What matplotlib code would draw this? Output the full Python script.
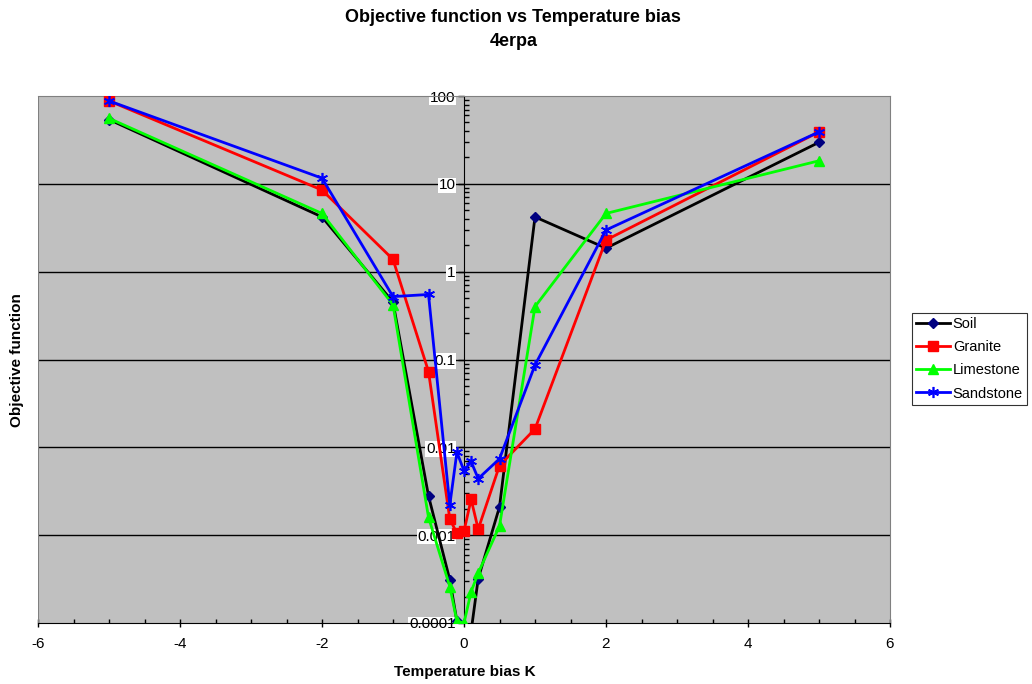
import matplotlib.pyplot as plt
from matplotlib.ticker import FixedLocator, LogLocator, FuncFormatter, NullFormatter

plt.rcParams['font.family'] = ['Liberation Sans', 'DejaVu Sans']
plt.rcParams['axes.unicode_minus'] = False

# biais de température (K)
bias = [-5, -2, -1, -0.5, -0.2, -0.1, 0, 0.1, 0.2, 0.5, 1, 2, 5]

# fonction objectif par type de sol
soil = [54, 4.2, 0.45, 0.0028, 0.00031, 0.000105, 0.00001, 0.00008, 0.00032, 0.0021, 4.2, 1.85, 29.7]
granite = [88, 8.5, 1.38, 0.073, 0.00153, 0.00105, 0.00111, 0.00256, 0.00117, 0.0062, 0.0162, 2.29, 39]
limestone = [55.7, 4.6, 0.42, 0.0016, 0.00026, 0.000105, 0.0001, 0.000227, 0.00037, 0.00127, 0.40, 4.6, 18.3]
sandstone = [88, 11.6, 0.52, 0.55, 0.0022, 0.0088, 0.0054, 0.0069, 0.0044, 0.0074, 0.0865, 2.98, 39]

y_ticks = [1e-4, 1e-3, 1e-2, 1e-1, 1, 10, 100]
x_ticks = [-6, -4, -2, 0, 2, 4, 6]

fig = plt.figure(figsize=(10.32, 6.84), dpi=100)
ax = fig.add_axes([38 / 1032, 1 - 623 / 684, 852 / 1032, 527 / 684])
ax.set_facecolor('#c0c0c0')

# grille horizontale sur les décades
for v in y_ticks[1:-1]:
    ax.axhline(v, color='black', lw=1, zorder=1)

ax.plot(bias, soil, color='black', lw=2, marker='D', ms=5.5,
        mfc='#000080', mec='#000080', label='Soil', zorder=3)
ax.plot(bias, granite, color='#ff0000', lw=2, marker='s', ms=6.5,
        mfc='#ff0000', mec='#ff0000', label='Granite', zorder=4)
ax.plot(bias, limestone, color='#00ff00', lw=2, marker='^', ms=7,
        mfc='#00ff00', mec='#00ff00', label='Limestone', zorder=5)
ax.plot(bias, sandstone, color='#0000ff', lw=2, marker=(6, 2, 0), ms=8,
        mew=1.2, mec='#0000ff', label='Sandstone', zorder=6)

ax.set_yscale('log')
ax.set_xlim(-6, 6)
ax.set_ylim(1e-4, 100)

# axe vertical au milieu (x = 0)
ax.spines['left'].set_position(('data', 0))
ax.spines['left'].set_color('black')
ax.spines['left'].set_zorder(2)
ax.spines['bottom'].set_color('black')
for s in ['top', 'right']:
    ax.spines[s].set_color('#808080')
ax.axvline(-6, color='#808080', lw=1.5, zorder=2)

ax.yaxis.set_major_locator(FixedLocator(y_ticks))
ax.yaxis.set_minor_locator(LogLocator(base=10, subs=range(2, 10), numticks=20))
ax.yaxis.set_major_formatter(FuncFormatter(lambda v, p: '%g' % v))
ax.yaxis.set_minor_formatter(NullFormatter())
ax.tick_params(axis='y', which='major', direction='out', length=4, width=1,
               labelsize=11, pad=2)
ax.tick_params(axis='y', which='minor', direction='in', length=3.5, width=1)
for lab in ax.get_yticklabels():
    lab.set_bbox(dict(facecolor='white', edgecolor='none', pad=0.5))
    lab.set_zorder(7)

ax.xaxis.set_major_locator(FixedLocator(x_ticks))
ax.xaxis.set_minor_locator(FixedLocator([i * 0.5 for i in range(-12, 13)]))
ax.tick_params(axis='x', which='major', direction='inout', length=6, width=1,
               labelsize=11, pad=7)
ax.tick_params(axis='x', which='minor', direction='in', length=3, width=1)

fig.text(465 / 1032, 1 - 672 / 684, 'Temperature bias K', ha='center', va='center',
         fontsize=11, fontweight='bold')
fig.text(0.016, 0.473, 'Objective function', ha='center', va='center',
         rotation=90, fontsize=11, fontweight='bold')
fig.text(0.4975, 1 - 18 / 684, 'Objective function vs Temperature bias', ha='center',
         va='center', fontsize=13, fontweight='bold')
fig.text(0.4975, 1 - 42 / 684, '4erpa', ha='center', va='center', fontsize=13,
         fontweight='bold')

leg = fig.legend(loc='upper left', bbox_to_anchor=(912 / 1032, 1 - 313 / 684),
                 fontsize=10.5, frameon=True, fancybox=False, handlelength=2.3,
                 borderpad=0.3, labelspacing=0.62, handletextpad=0.2,
                 borderaxespad=0)
leg.get_frame().set_edgecolor('black')
leg.get_frame().set_linewidth(0.8)

fig.savefig('out.png', dpi=100)
